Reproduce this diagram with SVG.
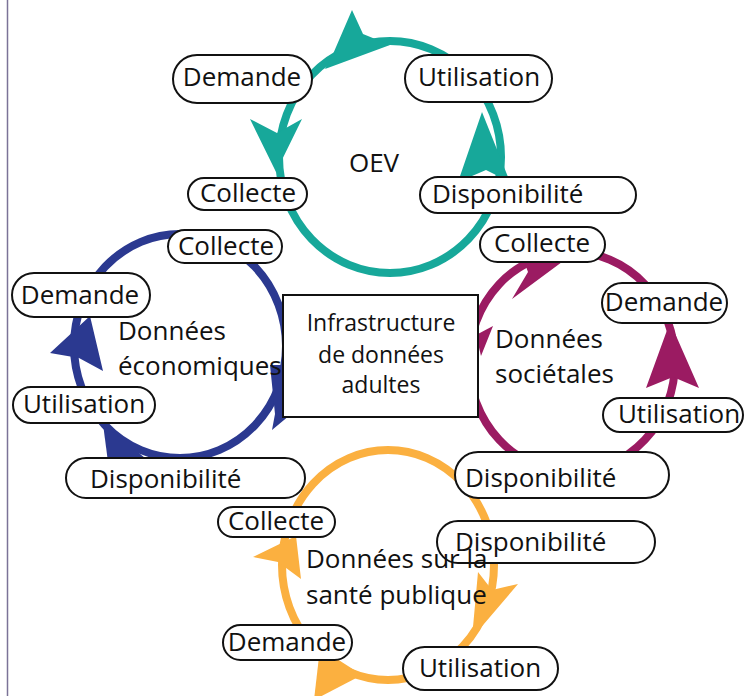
<svg xmlns="http://www.w3.org/2000/svg" width="745" height="696" viewBox="0 0 745 696">
<style>
.ring{fill:none;stroke-width:8}
.box{fill:#fff;stroke:#111;stroke-width:2}
.t{font-family:"Open Sans","Noto Sans","Liberation Sans",sans-serif;font-size:26px;fill:#111}
.m{text-anchor:middle}
.c{font-family:"Open Sans","Noto Sans","Liberation Sans",sans-serif;font-size:23px;fill:#111;text-anchor:middle}
.teal{stroke:#17a89a}.tealf{fill:#17a89a}
.blue{stroke:#2b3990}.bluef{fill:#2b3990}
.mag{stroke:#9b1b62}.magf{fill:#9b1b62}
.org{stroke:#fbb040}.orgf{fill:#fbb040}
</style>
<rect x="0" y="0" width="745" height="696" fill="#fff"/>
<line x1="7.5" y1="0" x2="7.5" y2="696" stroke="#7b7397" stroke-width="1.5"/>
<g id="connectors">
  <ellipse class="ring teal" cx="390" cy="157" rx="111" ry="116"/>
  <polygon class="tealf" points="352,10 363,34 390,45 325,69 333,54"/>
  <polygon class="tealf" points="250,119 277,133 302,119 276,172"/>
  <polygon class="tealf" points="482,112 510,182 486,170 458,182"/>

  <ellipse class="ring blue" cx="180" cy="346" rx="106" ry="112"/>
  <polygon class="bluef" points="90,316 103,371 79,358 50,353"/>
  <polygon class="bluef" points="103,424 150,462 108,462"/>
  <polygon class="bluef" points="270,365 290,365 290,415 272,430 275,414"/>

  <ellipse class="ring mag" cx="572" cy="362" rx="103" ry="110"/>
  <polygon class="magf" points="566,259 520,250 528,272 512,299"/>
  <polygon class="magf" points="476,335 493,326 481,356"/>
  <polygon class="magf" points="670,322 699,388 673,377 646,388"/>

  <ellipse class="ring org" cx="388" cy="565" rx="106" ry="115"/>
  <polygon class="orgf" points="296,536 301,579 278,562 253,557"/>
  <polygon class="orgf" points="478,572 492,590 518,584 472,638"/>
  <polygon class="orgf" points="320,648 362,675 314,700"/>
</g>

<g id="oev-demande"><rect class="box" x="173" y="55" width="139" height="48" rx="24"/><text class="t m" x="242" y="86">Demande</text></g>
<g id="oev-utilisation"><rect class="box" x="405" y="55" width="147" height="47" rx="23.5"/><text class="t m" x="479" y="86">Utilisation</text></g>
<g id="oev-collecte"><rect class="box" x="188" y="178" width="119" height="32" rx="16"/><text class="t m" x="248" y="202">Collecte</text></g>
<g id="oev-disponibilite"><rect class="box" x="420" y="177" width="216" height="36" rx="18"/><text class="t" x="432" y="203">Disponibilité</text></g>
<g id="oev-label"><text class="t m" x="374" y="172">OEV</text></g>

<g id="eco-collecte"><rect class="box" x="168" y="230" width="114" height="33" rx="16.5"/><text class="t m" x="226" y="255">Collecte</text></g>
<g id="eco-demande"><rect class="box" x="12" y="273" width="138" height="44" rx="22"/><text class="t m" x="80" y="304">Demande</text></g>
<g id="eco-utilisation"><rect class="box" x="13" y="387" width="142" height="36" rx="18"/><text class="t m" x="84" y="413">Utilisation</text></g>
<g id="eco-disponibilite"><rect class="box" x="66" y="458" width="239" height="40" rx="20"/><text class="t" x="90" y="488">Disponibilité</text></g>
<g id="eco-label"><text class="t" x="118" y="340">Données</text><text class="t" x="118" y="375">économiques</text></g>

<g id="soc-collecte"><rect class="box" x="480" y="227" width="125" height="35" rx="17.5"/><text class="t m" x="542" y="252">Collecte</text></g>
<g id="soc-demande"><rect class="box" x="602" y="283" width="125" height="40" rx="20"/><text class="t m" x="664" y="311">Demande</text></g>
<g id="soc-utilisation"><rect class="box" x="603" y="398" width="140" height="34" rx="17"/><text class="t m" x="679" y="423">Utilisation</text></g>
<g id="soc-label"><text class="t" x="495" y="348">Données</text><text class="t" x="495" y="383">sociétales</text></g>

<g id="sante-collecte"><rect class="box" x="218" y="507" width="117" height="30" rx="15"/><text class="t m" x="276" y="530">Collecte</text></g>
<g id="sante-disponibilite"><rect class="box" x="437" y="521" width="218" height="42" rx="21"/><text class="t" x="455" y="551">Disponibilité</text></g>
<g id="soc-disponibilite"><rect class="box" x="455" y="452" width="214" height="46" rx="23"/><text class="t" x="465" y="487">Disponibilité</text></g>
<g id="sante-demande"><rect class="box" x="223" y="625" width="129" height="35" rx="17.5"/><text class="t m" x="287" y="651">Demande</text></g>
<g id="sante-utilisation"><rect class="box" x="403" y="647" width="155" height="43" rx="21.5"/><text class="t m" x="480" y="677">Utilisation</text></g>
<g id="sante-label"><text class="t" x="306" y="568">Données sur la</text><text class="t" x="306" y="604">santé publique</text></g>

<g id="infrastructure"><rect class="box" x="283" y="295" width="195" height="122" fill="#fff" stroke="#111" stroke-width="2"/><text class="c" x="381" y="331">Infrastructure</text><text class="c" x="381" y="363">de données</text><text class="c" x="381" y="393">adultes</text></g>
</svg>
